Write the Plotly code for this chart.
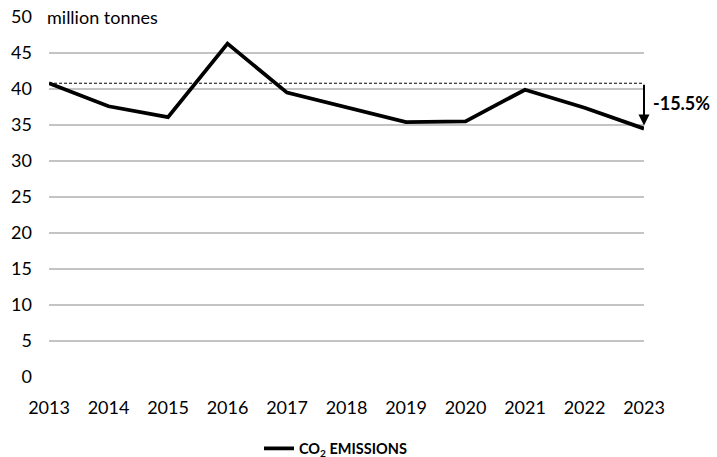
import plotly.graph_objects as go

years = [2013, 2014, 2015, 2016, 2017, 2018, 2019, 2020, 2021, 2022, 2023]
emissions = [40.8, 37.6, 36.1, 46.3, 39.5, 37.4, 35.4, 35.5, 39.9, 37.4, 34.5]
y_ticks = [0, 5, 10, 15, 20, 25, 30, 35, 40, 45, 50]
series_name = "CO<sub>2</sub> EMISSIONS"
unit_label = "million tonnes"
change_label = "-15.5%"

FONT = "Lato, 'Open Sans', sans-serif"

fig = go.Figure()
fig.add_trace(go.Scatter(
    x=years, y=emissions, mode="lines", name=series_name,
    line=dict(color="black", width=3.8),
))

# dashed reference line at the first-year level
fig.add_shape(type="line", xref="x", yref="y",
              x0=years[0], x1=years[-1], y0=emissions[0], y1=emissions[0],
              line=dict(color="black", width=1, dash="3px,2px"))

# arrow from reference to last value
fig.add_annotation(x=years[-1], y=emissions[-1], ax=years[-1], ay=emissions[0],
                   xref="x", yref="y", axref="x", ayref="y",
                   showarrow=True, arrowhead=2, arrowsize=1.1, arrowwidth=2,
                   arrowcolor="black", standoff=3, text="")
fig.add_annotation(x=years[-1], y=(emissions[0] + emissions[-1]) / 2 + 0.4,
                   xref="x", yref="y", text="<b>" + change_label + "</b>",
                   showarrow=False, xanchor="left", xshift=7,
                   font=dict(family=FONT, size=18, color="black"))

# unit label covering start of top gridline
fig.add_annotation(x=0, xref="paper", y=50, yref="y", text=unit_label,
                   showarrow=False, xanchor="left", yanchor="middle", align="left",
                   width=125, bgcolor="white", borderpad=4, xshift=-7,
                   font=dict(family=FONT, size=18, color="black"))

fig.update_layout(
    width=717, height=457,
    margin=dict(l=49, r=73, t=17, b=80, autoexpand=False),
    paper_bgcolor="white", plot_bgcolor="white",
    font=dict(family=FONT, size=18, color="black"),
    showlegend=True,
    legend=dict(orientation="h", x=0.4815, xanchor="center", y=-0.154, yanchor="top",
                font=dict(family=FONT, size=14.5, color="black", weight="bold")),
    xaxis=dict(range=[years[0], years[-1]], tickvals=years, ticktext=[str(y) for y in years],
               showgrid=False, zeroline=False, showline=False, ticks="",
               ticklabelstandoff=18, automargin=False),
    yaxis=dict(range=[0, 50], tickvals=y_ticks, showgrid=True, gridcolor="#c4c4c4",
               gridwidth=1.5, zeroline=False, showline=False, ticks="",
               ticklabelstandoff=16, automargin=False),
)

fig.write_html("out.html", config={"displayModeBar": False},
               post_script="document.body.style.margin='0';document.body.style.overflow='hidden';")
